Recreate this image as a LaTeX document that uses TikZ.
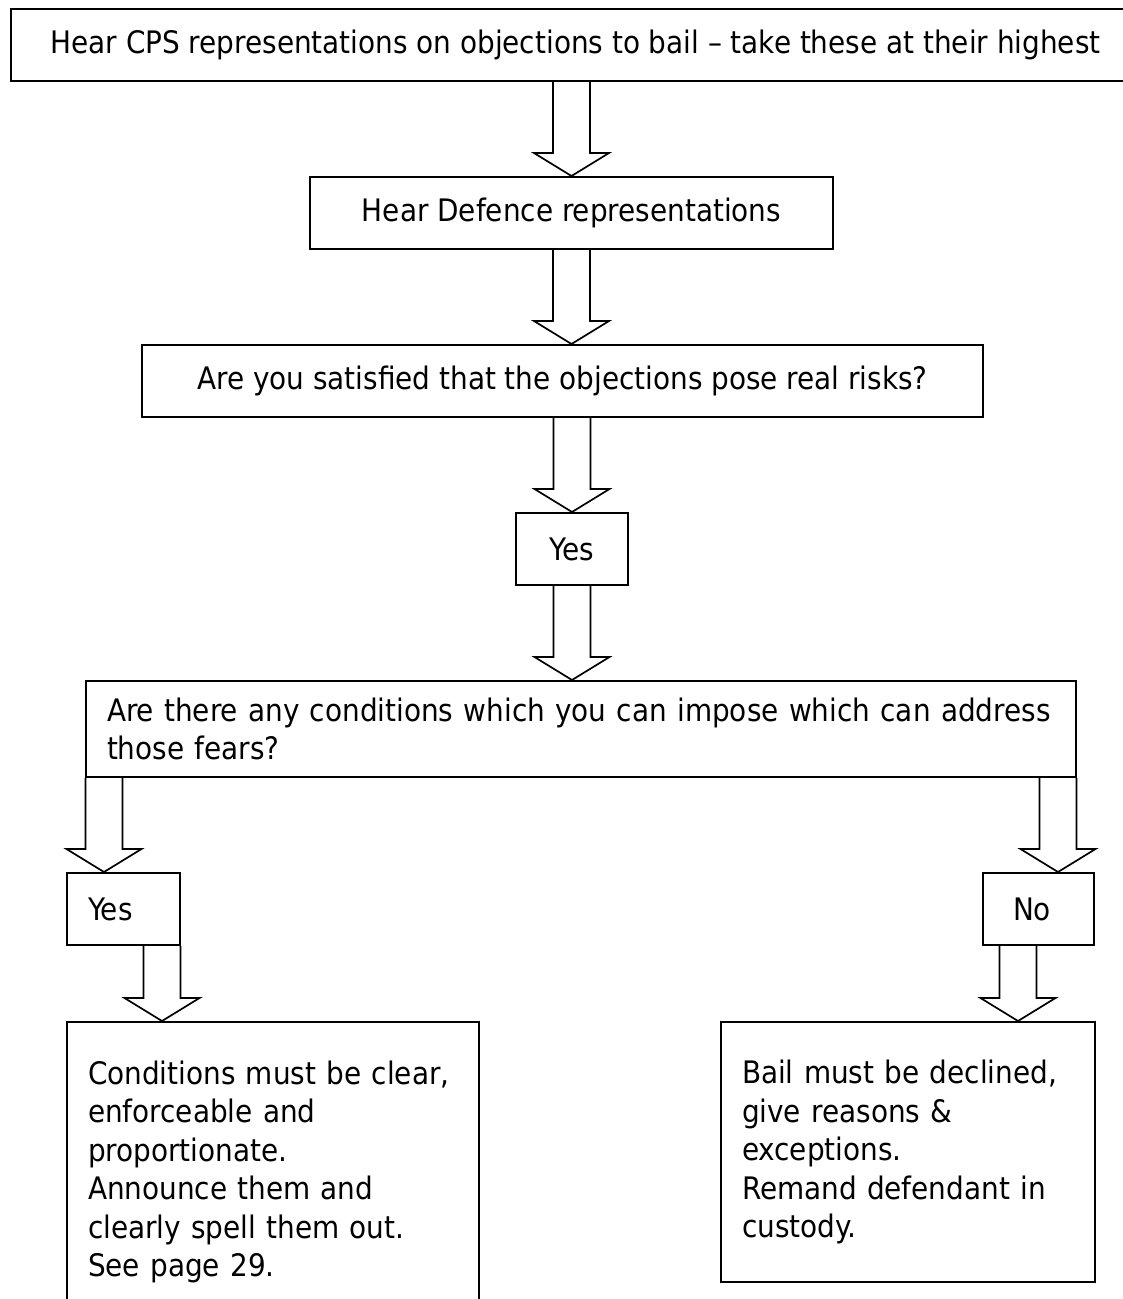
\documentclass[tikz,border=0pt]{standalone}
\usepackage{fontspec}
\setmainfont{DejaVu Sans Condensed}
\usetikzlibrary{calc}

% hollow block arrow: #1 = start coordinate, #2 = target node
\newcommand{\hollowarrow}[2]{%
  \draw [arrowline] ($(#1)+(-18.5,0)$)
    -- ($(#1|-#2.north)+(-18.5,-23)$) -- ($(#1|-#2.north)+(-37.5,-23)$)
    -- (#1|-#2.north)
    -- ($(#1|-#2.north)+(37.5,-23)$) -- ($(#1|-#2.north)+(18.5,-23)$)
    -- ($(#1)+(18.5,0)$);}

\begin{document}
\begin{tikzpicture}[x=1pt,y=-1pt,
    box/.style={draw=black, line width=2pt, inner xsep=0pt, inner ysep=0pt,
      font=\fontsize{31}{38.5}\selectfont},
    leftbox/.style={box, align=left, inner xsep=21pt},
    arrowline/.style={draw=black, line width=1.7pt, line join=miter}]
          \useasboundingbox (0,0) rectangle (1123,1299);

          \node [box, minimum width=1129pt, minimum height=72pt] (cps) at (575.5,45)
            {Hear CPS representations on objections to bail -- take these at their highest}; % Draws a rectangle
          \node [box, minimum width=523pt, minimum height=72pt] (defence) at (571.5,213)
            {Hear Defence representations}; % Draws a rectangle
          \node [box, minimum width=841pt, minimum height=72pt] (risks) at (562.5,381)
            {Are you satisfied that the objections pose real risks?}; % Draws a rectangle
          \node [box, minimum width=112pt, minimum height=72pt] (yes1) at (572,549) {Yes};

          \node [leftbox, text width=948pt, minimum height=96pt] (fears) at (581,729)
            {Are there any conditions which you can impose which can address\\those fears?};

          \node [leftbox, text width=71pt, minimum height=72pt] (yesL) at (123.5,909) {Yes};
          \node [leftbox, inner xsep=30pt, text width=51pt, minimum height=72pt] (noR) at (1038.5,909) {No};

          \node [leftbox, text width=370pt, minimum height=300pt] (cond) at (273,1172)
            {Conditions must be clear,\\enforceable and\\proportionate.\\Announce them and\\clearly spell them out.\\See page 29.};
          \node [leftbox, text width=332pt, minimum height=260pt] (bail) at (908,1152)
            {Bail must be declined,\\give reasons \&\\exceptions.\\Remand defendant in\\custody.};

          \coordinate (s1) at (defence.north |- cps.south);
          \coordinate (s2) at (defence.south);
          \coordinate (s3) at (yes1.north |- risks.south);
          \coordinate (s4) at (yes1.south);
          \coordinate (s5) at ([xshift=19pt]fears.south west);
          \coordinate (s6) at ([xshift=-19pt]fears.south east);
          \coordinate (s7) at ([xshift=-19pt]yesL.south east);
          \coordinate (s8) at ([xshift=36pt]noR.south west);

          \hollowarrow{s1}{defence}
          \hollowarrow{s2}{risks}
          \hollowarrow{s3}{yes1}
          \hollowarrow{s4}{fears}

          \hollowarrow{s5}{yesL}
          \hollowarrow{s6}{noR}

          \hollowarrow{s7}{cond}
          \hollowarrow{s8}{bail}
        \end{tikzpicture}
\end{document}
